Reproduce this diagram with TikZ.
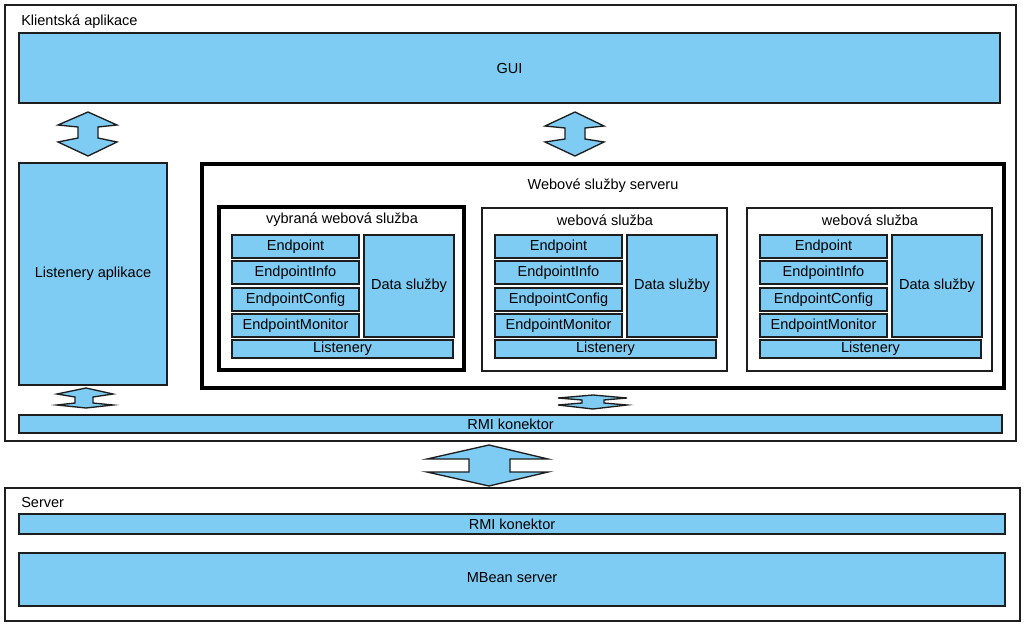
\documentclass[tikz,border=0pt]{standalone}
\usepackage{fontspec}
\setmainfont{Liberation Sans}
\definecolor{sky}{RGB}{126,204,243}
\definecolor{edge}{RGB}{30,30,30}
% box from (x1,y1) to (x2,y2) in pixel units: style, name, x1, y1, x2, y2, text
\newcommand\pxbox[7]{%
  \node[#1, minimum width={((#5)-(#3))*0.75pt}, minimum height={((#6)-(#4))*0.75pt}]
    (#2) at ({((#3)+(#5))/2},{((#4)+(#6))/2}) {#7};}
\begin{document}
\begin{tikzpicture}[x=0.75pt,y=-0.75pt,
  lbl/.style={font=\fontsize{10.9}{12}\selectfont},
  bluebox/.style={draw=edge, fill=sky, line width=1.1pt, inner sep=0pt, lbl},
  frame/.style={draw=edge, line width=1.1pt, inner sep=0pt},
  thickframe/.style={draw=black, line width=2.3pt, inner sep=0pt},
  title/.style={lbl, inner sep=0pt},
  dblarrow/.style={draw=edge, fill=sky, line width=1pt, line join=miter}]
\useasboundingbox (0,0) rectangle (1024,631);
\fill[white] (0,0) rectangle (1024,631);

% outer frames
\pxbox{frame}{client}{5}{5}{1016}{441}{}
\node[title, anchor=west] (clienttitle) at (21,22) {Klientská aplikace};
\pxbox{frame}{server}{5}{488}{1020}{621}{}
\node[title, anchor=west] (servertitle) at (21,502) {Server};

% client contents
\pxbox{bluebox}{gui}{19}{33}{1000}{103}{GUI}
\pxbox{bluebox}{listapp}{19}{163}{167}{385}{Listenery aplikace}
\pxbox{bluebox}{rmic}{19}{415}{1002}{433}{RMI konektor}

\pxbox{thickframe}{ws}{202}{164}{1004}{388}{}
\node[title] (wstitle) at (603,186) {Webové služby serveru};

% services
\foreach \i/\x/\y/\st/\t in {1/219/207/thickframe/vybraná webová služba,
                             2/482/208/frame/webová služba,
                             3/747/208/frame/webová služba}{
  \pxbox{\st}{s\i}{\x}{\y}{\x+245}{\y+163}{}
  \node[title] (s\i-t) at (\x+123,220) {\t};
  \pxbox{bluebox}{s\i-ep}{\x+13}{235}{\x+140}{258}{Endpoint}
  \pxbox{bluebox}{s\i-ei}{\x+13}{261}{\x+140}{284}{EndpointInfo}
  \pxbox{bluebox}{s\i-ec}{\x+13}{288}{\x+140}{311}{EndpointConfig}
  \pxbox{bluebox}{s\i-em}{\x+13}{314}{\x+140}{337}{EndpointMonitor}
  \pxbox{bluebox}{s\i-d}{\x+145}{235}{\x+235}{337}{Data služby}
  \pxbox{bluebox}{s\i-l}{\x+13}{340}{\x+234}{358}{Listenery}
}

% server contents
\pxbox{bluebox}{rmis}{19}{514}{1005}{534}{RMI konektor}
\pxbox{bluebox}{mbean}{19}{553}{1005}{606}{\raisebox{3pt}{MBean server}}

% double arrows
\draw[dblarrow] (88,112) -- (117,125) -- (98,127) -- (98,138) -- (117,142) -- (88,156)
  -- (58,142) -- (78,138) -- (78,127) -- (58,125) -- cycle;
\draw[dblarrow] (575,112) -- (604,126) -- (585,128) -- (585,139) -- (604,142) -- (575,156)
  -- (545,142) -- (565,139) -- (565,128) -- (545,126) -- cycle;
\draw[dblarrow] (86,388) -- (113,394) -- (93,397) -- (93,403) -- (113,405) -- (86,408)
  -- (57,405) -- (75,403) -- (75,397) -- (57,394) -- cycle;
\draw[dblarrow] (593,395) -- (627,398) -- (604,400) -- (604,403) -- (627,405) -- (593,409)
  -- (558,405) -- (582,403) -- (582,400) -- (558,398) -- cycle;
\draw[dblarrow] (489,445) -- (548,459) -- (510,459) -- (510,472) -- (548,472) -- (489,486)
  -- (427,472) -- (469,472) -- (469,459) -- (427,459) -- cycle;
\end{tikzpicture}
\end{document}
